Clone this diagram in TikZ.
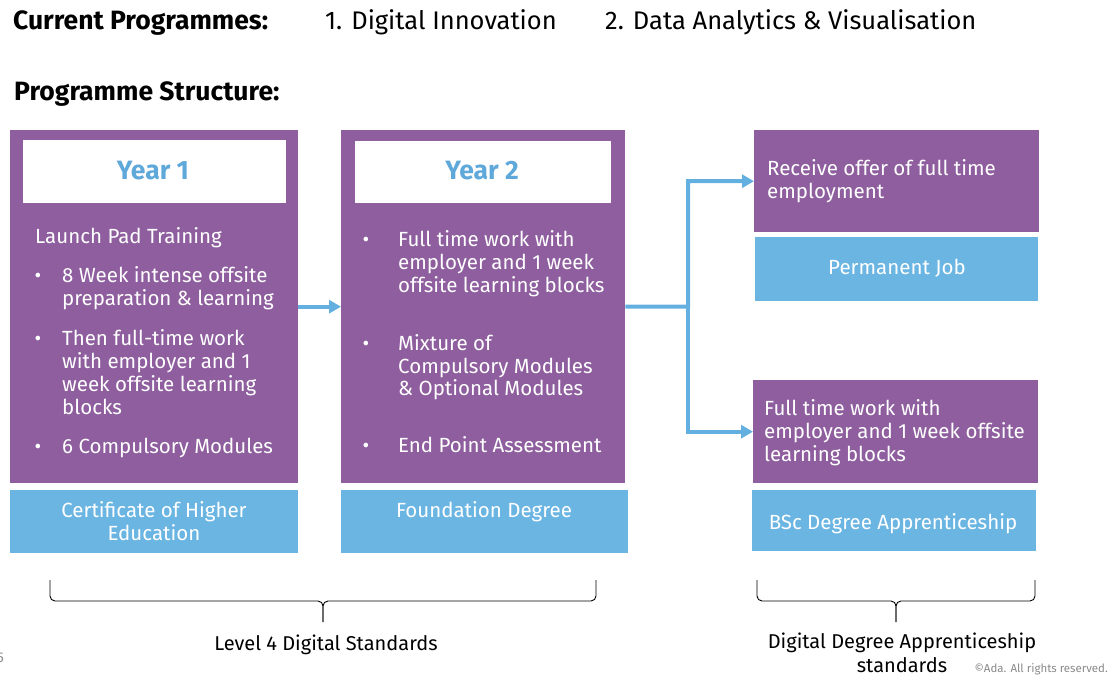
\documentclass[tikz,border=0pt]{standalone}
\usepackage{fontspec}
\setmainfont{Fira Sans}
\usetikzlibrary{arrows.meta}
\definecolor{plum}{HTML}{8E5E9E}
\definecolor{sky}{HTML}{6BB5E3}
\definecolor{flowblue}{HTML}{62AFE0}
\definecolor{yeartxt}{HTML}{5EA8DA}
\definecolor{notegray}{HTML}{8A8A8A}
% stacked lines whose baseline is that of the first line
\newcommand\linesl[1]{\begin{tabular}[t]{@{}l@{}}#1\end{tabular}}
\newcommand\linesc[1]{\begin{tabular}[t]{@{}c@{}}#1\end{tabular}}

\begin{document}
\begin{tikzpicture}[x=1pt,y=-1pt,
  panel/.style={fill=plum, inner sep=0pt, anchor=north west},
  award/.style={fill=sky, inner sep=0pt, anchor=north west},
  titlebox/.style={fill=white, inner sep=0pt, anchor=north west},
  yeartitle/.style={text=yeartxt, font=\fontsize{26.5}{30}\selectfont\bfseries, anchor=base, inner sep=0pt},
  body/.style={text=white, font=\fontsize{20.5}{23}\selectfont, anchor=base west, inner sep=0pt},
  bodyc/.style={text=white, font=\fontsize{20.5}{23}\selectfont, anchor=base, inner sep=0pt},
  dot/.style={text=white, font=\fontsize{20.5}{23}\selectfont, anchor=base, inner sep=0pt},
  head/.style={font=\fontsize{25.5}{30}\selectfont, anchor=base west, inner sep=0pt},
  headb/.style={font=\fontsize{26.5}{30}\selectfont\bfseries, anchor=base west, inner sep=0pt},
  foot/.style={font=\fontsize{20}{24}\selectfont, anchor=base, inner sep=0pt},
  flow/.style={draw=flowblue, line width=4pt, -{Triangle[length=12pt,width=13pt]}},
  bracket/.style={draw=black, line width=0.9pt, rounded corners=5pt}
]
\useasboundingbox (0,0) rectangle (1112,679);

% headings
\node[headb] (cur) at (13,30) {Current Programmes:};
\node[head] (p1) at (325,30) {1. Digital Innovation};
\node[head] (p2) at (605,30) {2. Data Analytics \& Visualisation};
\node[headb] (ps) at (14,101) {Programme Structure:};

% Year 1 column
\node[panel, minimum width=288, minimum height=353] (y1) at (10,130) {};
\node[titlebox, minimum width=263, minimum height=63] (y1t) at (23,140) {};
\node[yeartitle] (y1l) at (153,180) {Year 1};
\node[body] (lp) at (35,244) {Launch Pad Training};
\node[dot] (b11) at (38,283) {•};
\node[body] (t11) at (62,283) {\linesl{8 Week intense offsite\\preparation \& learning}};
\node[dot] (b12) at (38,345) {•};
\node[body] (t12) at (62,345) {\linesl{Then full-time work\\with employer and 1\\week offsite learning\\blocks}};
\node[dot] (b13) at (38,453) {•};
\node[body] (t13) at (62,453) {6 Compulsory Modules};
\node[award, minimum width=288, minimum height=63] (c1) at (10,490) {};
\node[bodyc] (c1l) at (154,517) {\linesc{Certificate of Higher\\Education}};

% Year 2 column
\node[panel, minimum width=284, minimum height=353] (y2) at (341,130) {};
\node[titlebox, minimum width=256, minimum height=62] (y2t) at (355,141) {};
\node[yeartitle] (y2l) at (482,180) {Year 2};
\node[dot] (b21) at (366,247) {•};
\node[body] (t21) at (398,247) {\linesl{Full time work with\\employer and 1 week\\offsite learning blocks}};
\node[dot] (b22) at (366,350) {•};
\node[body] (t22) at (398,350) {\linesl{Mixture of\\Compulsory Modules\\\& Optional Modules}};
\node[dot] (b23) at (366,452) {•};
\node[body] (t23) at (398,452) {End Point Assessment};
\node[award, minimum width=287, minimum height=63] (c2) at (341,490) {};
\node[bodyc] (c2l) at (484,517) {Foundation Degree};

% outcomes
\node[panel, minimum width=285, minimum height=102] (offer) at (754,130) {};
\node[body] (offerl) at (767,176) {\linesl{Receive offer of full time\\employment}};
\node[award, minimum width=283, minimum height=64] (job) at (755,237) {};
\node[bodyc] (jobl) at (897,275) {Permanent Job};
\node[panel, minimum width=285, minimum height=103] (ft) at (753,380) {};
\node[body] (ftl) at (764,415) {\linesl{Full time work with\\employer and 1 week offsite\\learning blocks}};
\node[award, minimum width=284, minimum height=61] (bsc) at (752,490) {};
\node[bodyc] (bscl) at (893,529) {BSc Degree Apprenticeship};

% connectors
\coordinate (split) at (688,306.5);
\draw[flow] (y1) -- (y2);
\draw[flow] (y2.east) -- (split) |- (offer.west);
\draw[flow] (split) |- (ft.west);

% brackets
\coordinate (l4a) at (50,580);
\coordinate (l4b) at (596,580);
\coordinate (l4m) at (323,601);
\coordinate (l4t) at (323,622);
\draw[bracket] (l4a) |- (l4m) -- (l4t);
\draw[bracket] (l4b) |- (l4m) -- (l4t);
\coordinate (dda) at (757,580);
\coordinate (ddb) at (1035,580);
\coordinate (ddm) at (896,601);
\coordinate (ddt) at (896,622);
\draw[bracket] (dda) |- (ddm) -- (ddt);
\draw[bracket] (ddb) |- (ddm) -- (ddt);

\node[foot] (l4l) at (326,650) {Level 4 Digital Standards};
\node[foot] (ddl) at (902,648) {\linesc{Digital Degree Apprenticeship\\standards}};
\node[anchor=base east, inner sep=0pt, text=notegray, font=\fontsize{11.5}{14}\selectfont] (copy) at (1108,672) {©Ada. All rights reserved.};
\node[anchor=base east, inner sep=0pt, text=notegray, font=\fontsize{14}{16}\selectfont] (pg) at (4,662) {5};
\end{tikzpicture}
\end{document}
